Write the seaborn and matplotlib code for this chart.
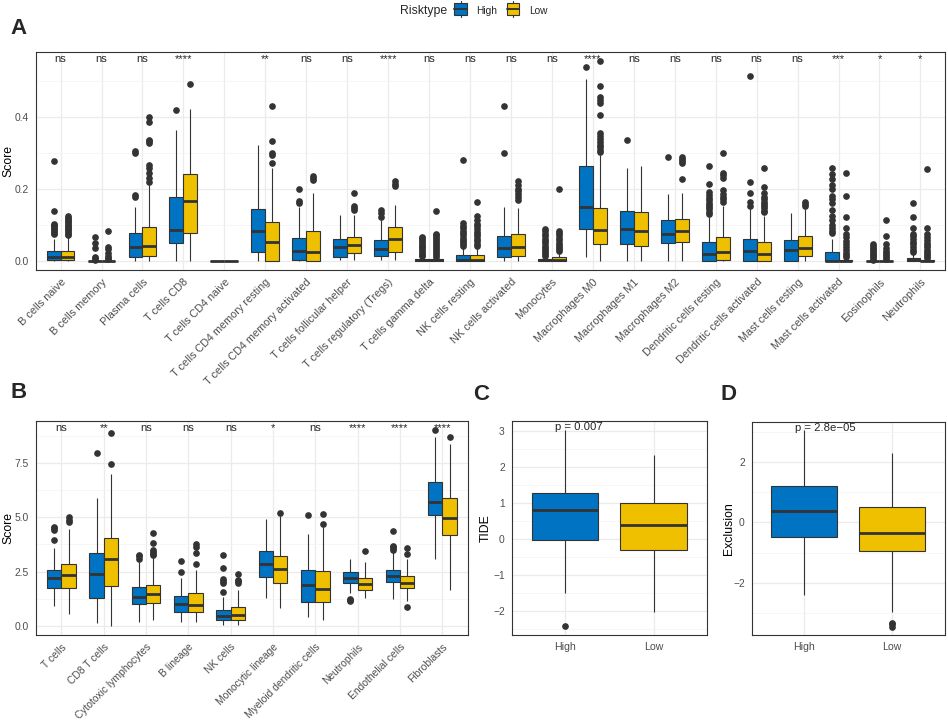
import numpy as np
import pandas as pd
import seaborn as sns
import matplotlib.pyplot as plt
from matplotlib.patches import Rectangle, Patch
from matplotlib.lines import Line2D
from matplotlib.legend_handler import HandlerBase
from matplotlib.ticker import MultipleLocator

groups = ["High", "Low"]
colors = ["#0073C2", "#EFC000"]

# ---- panel A: CIBERSORT cell fractions ----
cells_a = ["B cells naive", "B cells memory", "Plasma cells", "T cells CD8", "T cells CD4 naive",
           "T cells CD4 memory resting", "T cells CD4 memory activated", "T cells follicular helper",
           "T cells regulatory (Tregs)", "T cells gamma delta", "NK cells resting", "NK cells activated",
           "Monocytes", "Macrophages M0", "Macrophages M1", "Macrophages M2", "Dendritic cells resting",
           "Dendritic cells activated", "Mast cells resting", "Mast cells activated", "Eosinophils",
           "Neutrophils"]
sig_a = ["ns", "ns", "ns", "****", "", "**", "ns", "ns", "****", "ns", "ns", "ns", "ns", "****",
         "ns", "ns", "ns", "ns", "ns", "***", "*", "*"]
# (lower whisker, q1, median, q3, upper whisker)
high_a = [(0, 0.001, 0.010, 0.027, 0.059), (0, 0, 0, 0, 0), (0, 0.011, 0.039, 0.076, 0.148),
          (0, 0.05, 0.085, 0.178, 0.363), (0, 0, 0, 0, 0), (0, 0.023, 0.081, 0.144, 0.321),
          (0, 0.001, 0.028, 0.063, 0.15), (0.003, 0.011, 0.039, 0.059, 0.127),
          (0.001, 0.014, 0.031, 0.056, 0.113), (0, 0, 0.001, 0.004, 0.009), (0, 0, 0.003, 0.015, 0.036),
          (0, 0.011, 0.034, 0.067, 0.15), (0, 0, 0.001, 0.004, 0.009), (0.009, 0.087, 0.149, 0.263, 0.504),
          (0, 0.045, 0.087, 0.138, 0.256), (0, 0.05, 0.073, 0.113, 0.185), (0, 0, 0.019, 0.051, 0.122),
          (0, 0, 0.028, 0.06, 0.142), (0, 0, 0.03, 0.057, 0.131), (0, 0, 0, 0.025, 0.06),
          (0, 0, 0, 0, 0), (0, 0, 0.002, 0.008, 0.019)]
low_a = [(0, 0.001, 0.011, 0.028, 0.068), (0, 0, 0, 0, 0), (0, 0.013, 0.041, 0.093, 0.21),
         (0, 0.078, 0.165, 0.24, 0.42), (0, 0, 0, 0, 0), (0, 0, 0.053, 0.106, 0.256),
         (0, 0, 0.025, 0.081, 0.187), (0.001, 0.021, 0.044, 0.065, 0.127),
         (0.001, 0.024, 0.059, 0.092, 0.155), (0, 0, 0.001, 0.004, 0.009), (0, 0, 0.003, 0.015, 0.036),
         (0, 0.014, 0.039, 0.073, 0.145), (0, 0, 0.002, 0.010, 0.022), (0, 0.046, 0.085, 0.147, 0.294),
         (0, 0.041, 0.081, 0.135, 0.264), (0, 0.052, 0.082, 0.115, 0.189), (0, 0.002, 0.023, 0.065, 0.153),
         (0, 0, 0.019, 0.053, 0.125), (0, 0.014, 0.034, 0.067, 0.143), (0, 0, 0, 0.003, 0.007),
         (0, 0, 0, 0, 0), (0, 0, 0, 0.002, 0.005)]
high_a_out = [[0.074, 0.078, 0.083, 0.087, 0.091, 0.095, 0.099, 0.102, 0.137, 0.276],
              [0.003, 0.007, 0.011, 0.034, 0.048, 0.065],
              [0.178, 0.183, 0.298, 0.303],
              [0.417], [], [], [0.16, 0.165, 0.2], [], [0.121, 0.133, 0.14],
              [0.012, 0.017, 0.021, 0.027, 0.031, 0.038, 0.042, 0.047, 0.053, 0.057, 0.062, 0.066],
              [0.04, 0.046, 0.052, 0.058, 0.064, 0.07, 0.076, 0.083, 0.09, 0.097, 0.104, 0.28],
              [0.298, 0.43],
              [0.012, 0.018, 0.023, 0.029, 0.036, 0.042, 0.048, 0.055, 0.061, 0.067, 0.074, 0.081, 0.087],
              [0.537], [0.335], [0.289],
              [0.13, 0.136, 0.142, 0.148, 0.155, 0.161, 0.168, 0.175, 0.183, 0.19, 0.213, 0.263],
              [0.152, 0.164, 0.189, 0.217, 0.513], [],
              [0.076, 0.082, 0.09, 0.1, 0.112, 0.125, 0.14, 0.16, 0.17, 0.18, 0.2, 0.21, 0.226, 0.24, 0.256],
              [0.003, 0.007, 0.012, 0.016, 0.021, 0.026, 0.031, 0.036, 0.041, 0.046],
              [0.024, 0.03, 0.037, 0.045, 0.053, 0.06, 0.068, 0.075, 0.09, 0.12, 0.16]]
low_a_out = [[0.071, 0.075, 0.079, 0.084, 0.087, 0.093, 0.097, 0.101, 0.106, 0.110, 0.115, 0.119, 0.124],
             [0.004, 0.008, 0.013, 0.022, 0.031, 0.039, 0.083],
             [0.219, 0.229, 0.243, 0.256, 0.266, 0.326, 0.331, 0.335, 0.385, 0.40],
             [0.491], [], [0.27, 0.294, 0.30, 0.332, 0.428], [0.224, 0.23, 0.236],
             [0.14, 0.146, 0.152, 0.187], [0.207, 0.214, 0.22],
             [0.011, 0.016, 0.022, 0.027, 0.033, 0.038, 0.043, 0.049, 0.055, 0.06, 0.066, 0.071, 0.075, 0.139],
             [0.04, 0.047, 0.054, 0.06, 0.067, 0.074, 0.08, 0.088, 0.095, 0.103, 0.112, 0.124, 0.164],
             [0.168, 0.178, 0.185, 0.192, 0.2, 0.21, 0.22],
             [0.027, 0.031, 0.037, 0.044, 0.05, 0.057, 0.063, 0.07, 0.076, 0.081, 0.2],
             [0.302, 0.307, 0.315, 0.322, 0.33, 0.338, 0.346, 0.354, 0.405, 0.437, 0.446, 0.454, 0.485, 0.555],
             [], [0.227, 0.27, 0.276, 0.282, 0.287],
             [0.164, 0.171, 0.178, 0.186, 0.196, 0.23, 0.237, 0.243, 0.30],
             [0.134, 0.139, 0.145, 0.151, 0.157, 0.163, 0.17, 0.178, 0.187, 0.204, 0.256],
             [0.152, 0.158, 0.164],
             [0.01, 0.016, 0.022, 0.03, 0.038, 0.046, 0.055, 0.065, 0.075, 0.09, 0.122, 0.18, 0.243],
             [0.004, 0.009, 0.015, 0.021, 0.028, 0.035, 0.046, 0.067, 0.113],
             [0.007, 0.012, 0.018, 0.024, 0.03, 0.037, 0.044, 0.05, 0.058, 0.066, 0.075, 0.09, 0.254]]

# ---- panel B: MCP-counter scores ----
cells_b = ["T cells", "CD8 T cells", "Cytotoxic lymphocytes", "B lineage", "NK cells",
           "Monocytic lineage", "Myeloid dendritic cells", "Neutrophils", "Endothelial cells", "Fibroblasts"]
sig_b = ["ns", "**", "ns", "ns", "ns", "*", "ns", "****", "****", "****"]
high_b = [(0.92, 1.75, 2.18, 2.59, 3.59), (0.11, 1.29, 2.38, 3.36, 5.9), (0.15, 1.0, 1.33, 1.79, 2.95),
          (0.18, 0.64, 1.0, 1.37, 2.22), (0.03, 0.26, 0.44, 0.72, 1.33), (1.26, 2.25, 2.84, 3.45, 4.94),
          (0.4, 1.1, 1.87, 2.56, 4.25), (1.49, 1.98, 2.21, 2.47, 3.07), (1.21, 2.02, 2.3, 2.59, 3.4),
          (3.07, 5.11, 5.71, 6.62, 8.72)]
low_b = [(0.52, 1.75, 2.32, 2.87, 4.48), (0.0, 1.83, 3.07, 4.06, 6.99), (0.25, 1.03, 1.46, 1.9, 3.15),
         (0.18, 0.64, 0.95, 1.49, 2.56), (0.03, 0.26, 0.49, 0.84, 1.64), (0.81, 1.95, 2.61, 3.22, 5.05),
         (0.25, 1.1, 1.7, 2.53, 4.55), (1.26, 1.64, 1.93, 2.22, 2.93), (1.12, 1.72, 1.98, 2.29, 3.1),
         (1.67, 4.17, 4.98, 5.88, 8.37)]
high_b_out = [[3.94, 4.43, 4.5, 4.55], [7.98], [3.1, 3.2, 3.28], [2.5, 2.99],
              [1.55, 1.95, 2.05, 2.15, 2.68, 3.25], [], [5.09], [1.15, 1.19, 1.22],
              [3.5, 3.58, 3.65, 3.7, 4.39], [9.03]]
low_b_out = [[4.8, 4.9, 5.0], [7.45, 8.91], [3.25, 3.33, 3.42, 3.5, 3.83, 4.29], [2.85, 3.36, 3.65, 3.76],
             [1.97, 2.05, 2.12, 2.38], [5.21], [4.7, 5.17], [3.47], [0.84, 3.33, 3.59], [8.69]]

# ---- panels C and D ----
tide_high, tide_low = (-1.51, -0.03, 0.81, 1.28, 3.03), (-2.04, -0.31, 0.4, 1.01, 2.33)
tide_high_out, tide_low_out = [-2.41], []
excl_high, excl_low = (-2.41, -0.48, 0.36, 1.2, 3.06), (-2.98, -0.95, -0.34, 0.52, 2.3)
excl_high_out, excl_low_out = [], [-3.32, -3.38, -3.46]


def rebuild(stats, outliers):
    # a sample whose boxplot statistics are exactly the values
    lo, q1, med, q3, hi = stats
    below = sorted(v for v in outliers if v < lo)
    above = sorted(v for v in outliers if v > hi)
    k = 60 + len(outliers)
    return (below + [lo] + [q1] * (k - len(below)) + [med] * k
            + [q3] * (2 * k - 1 - len(above)) + [hi] + above)


def long_table(cells, high, low, high_out, low_out):
    rows = []
    for i, cell in enumerate(cells):
        for grp, st, out in (("High", high[i], high_out[i]), ("Low", low[i], low_out[i])):
            rows += [(cell, grp, v) for v in rebuild(st, out)]
    return pd.DataFrame(rows, columns=["cell", "Risktype", "score"])


sns.set_theme(style="whitegrid")
plt.rcParams["font.family"] = ["Liberation Sans", "DejaVu Sans"]

W, H = 948, 724
fig = plt.figure(figsize=(W / 100, H / 100), dpi=100)


def axes_px(left, top, right, bottom):
    return fig.add_axes([left / W, 1 - bottom / H, (right - left) / W, (bottom - top) / H])


box_kw = dict(hue="Risktype", hue_order=groups, palette=colors, saturation=1, gap=0,
              linecolor="#333333", linewidth=0.8, fliersize=3.8, showcaps=False,
              flierprops=dict(marker="o", markerfacecolor="#333333", markeredgecolor="#333333"),
              medianprops=dict(linewidth=2.0), legend=False)


def style(ax, n, ylim, major, minor, ylabel, label_px, xsize=7.4):
    ax.set_xlim(-0.6, n - 0.4)
    ax.set_ylim(*ylim)
    ax.yaxis.set_major_locator(MultipleLocator(major))
    ax.yaxis.set_minor_locator(MultipleLocator(minor))
    ax.grid(True, which="major", color="#EBEBEB", lw=0.9)
    ax.grid(True, which="minor", axis="y", color="#F3F3F3", lw=0.5)
    ax.set_axisbelow(True)
    for s in ax.spines.values():
        s.set_visible(True)
        s.set_color("#333333")
        s.set_linewidth(0.8)
    ax.tick_params(which="major", length=3, width=0.6, color="#333333", labelcolor="#4D4D4D",
                   labelsize=7.4, pad=2)
    ax.tick_params(axis="x", labelsize=xsize)
    ax.tick_params(which="minor", length=0)
    ax.set_xlabel("")
    ax.set_ylabel(ylabel, fontsize=8.8, color="black")
    # label_px: pixel offset of the label's right edge from the axes' left edge
    ax.yaxis.set_label_coords(label_px / (ax.get_position().width * W), 0.5)


# panel A
ax_a = axes_px(36, 51.7, 945, 270)
df_a = long_table(cells_a, high_a, low_a, high_a_out, low_a_out)
sns.boxplot(data=df_a, x="cell", y="score", order=cells_a, width=0.68, ax=ax_a, **box_kw)
style(ax_a, len(cells_a), (-0.026, 0.58), 0.2, 0.1, "Score", -22, 7.8)
ax_a.set_xticks(range(len(cells_a)))
ax_a.set_xticklabels(cells_a, rotation=45, ha="right", va="top", rotation_mode="anchor")
for i, s in enumerate(sig_a):
    ax_a.text(i, 0.551, s, ha="center", va="baseline", fontsize=8)

# panel B
ax_b = axes_px(36, 421, 467.7, 635)
df_b = long_table(cells_b, high_b, low_b, high_b_out, low_b_out)
sns.boxplot(data=df_b, x="cell", y="score", order=cells_b, width=0.68, ax=ax_b, **box_kw)
style(ax_b, len(cells_b), (-0.43, 9.45), 2.5, 1.25, "Score", -22, 7.4)
ax_b.set_xticks(range(len(cells_b)))
ax_b.set_xticklabels(cells_b, rotation=45, ha="right", va="top", rotation_mode="anchor")
for i, s in enumerate(sig_b):
    ax_b.text(i, 9.0, s, ha="center", va="baseline", fontsize=8)

# panels C and D
for box, (hs, ls, ho, lo_, name, ylim, major, ptxt, py, lpx) in zip(
        [(511.7, 421.3, 706.7, 635), (751.7, 421.7, 945, 635)],
        [(tide_high, tide_low, tide_high_out, tide_low_out, "TIDE", (-2.67, 3.27), 1,
          "p = 0.007", 3.03, -20),
         (excl_high, excl_low, excl_high_out, excl_low_out, "Exclusion", (-3.73, 3.33), 2,
          "p = 2.8e\u221205", 3.03, -17)]):
    ax = axes_px(*box)
    df = pd.DataFrame({"Risktype": ["High"] * len(rebuild(hs, ho)) + ["Low"] * len(rebuild(ls, lo_)),
                       "score": rebuild(hs, ho) + rebuild(ls, lo_)})
    sns.boxplot(data=df, x="Risktype", y="score", order=groups, width=0.75, ax=ax, **box_kw)
    style(ax, 2, ylim, major, major / 2, name, lpx, 7.6)
    ax.text(-0.11, py, ptxt, ha="left", va="baseline", fontsize=8.2)

# panel letters
for lab, x, y in [("A", 10, 28), ("B", 10, 393), ("C", 473, 395), ("D", 720, 394)]:
    fig.text(x / W, 1 - y / H, lab, fontsize=16, fontweight="bold", ha="left", va="center")


class BoxKey(HandlerBase):
    def create_artists(self, legend, orig, xd, yd, w, h, fs, trans):
        cx = xd + w / 2
        rect = Rectangle((xd + 1, yd - 1), w - 2, h + 2, facecolor=orig.get_facecolor(),
                         edgecolor="#333333", lw=0.8, transform=trans)
        mid = Line2D([xd + 1, xd + w - 1], [yd + h / 2] * 2, color="#333333", lw=1.4, transform=trans)
        top = Line2D([cx, cx], [yd + h + 1, yd + h + 3], color="#333333", lw=0.8, transform=trans)
        bot = Line2D([cx, cx], [yd - 1, yd - 3], color="#333333", lw=0.8, transform=trans)
        return [rect, mid, top, bot]


handles = [Patch(facecolor=c) for c in colors]
fig.text(400 / W, 1 - 11 / H, "Risktype", fontsize=8.8, ha="left", va="center")
fig.legend(handles, groups, handler_map={Patch: BoxKey()}, loc="center left",
           bbox_to_anchor=(453 / W, 1 - 11 / H), ncol=2, frameon=False, fontsize=7.3,
           handlelength=1.5, handleheight=0.9, handletextpad=0.8, columnspacing=0.8,
           borderaxespad=0, borderpad=0)

fig.savefig("out.png", dpi=100)
